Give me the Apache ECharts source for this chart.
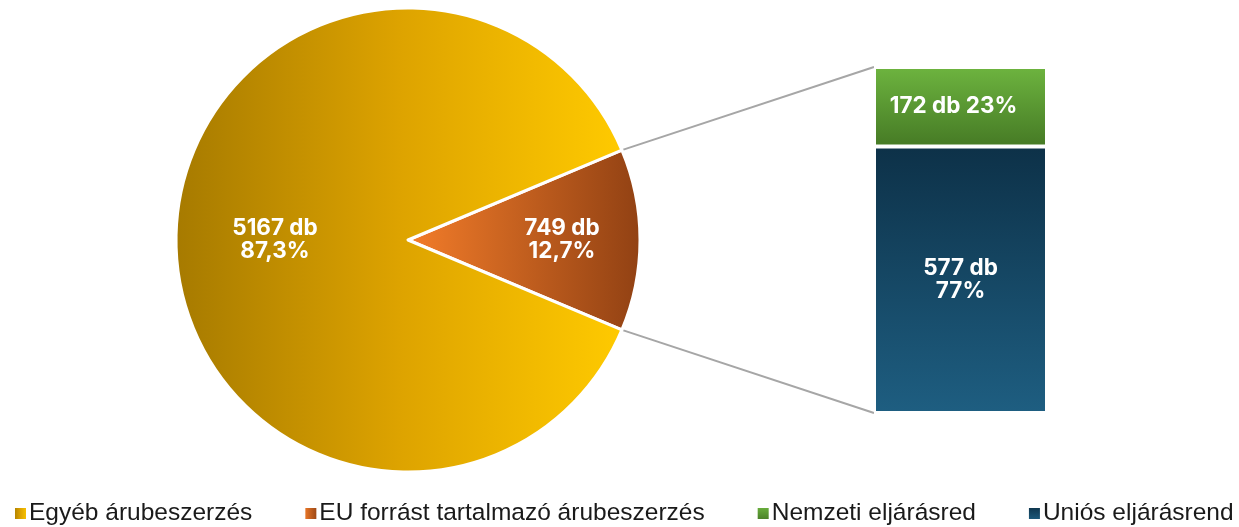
<!DOCTYPE html>
<html>
<head>
<meta charset="utf-8">
<script src="https://cdn.jsdelivr.net/npm/echarts@6/dist/echarts.min.js"></script>
<style>
html,body{margin:0;padding:0;background:#fff;}
#chart{width:1239px;height:527px;}
</style>
</head>
<body>
<div id="chart"></div>
<script>
const pieCategories = ['Egyéb árubeszerzés', 'EU forrást tartalmazó árubeszerzés'];
const pieValues = [5167, 749];
const piePercents = ['87,3%', '12,7%'];
const barNames = ['Nemzeti eljárásred', 'Uniós eljárásrend'];
const barValues = [172, 577];
const barPercents = ['23%', '77%'];

const chart = echarts.init(document.getElementById('chart'), null, {renderer: 'canvas'});

const pieCenter = [408, 240];
const pieRadius = 232;
const total = pieValues[0] + pieValues[1];
const euAngle = 360 * pieValues[1] / total;
const startAngle = euAngle / 2;

const gold = {type: 'linear', x: 0, y: 0, x2: 1, y2: 0, colorStops: [
  {offset: 0, color: '#a67a00'}, {offset: 0.5, color: '#dda300'}, {offset: 1, color: '#ffca00'}]};
const orange = {type: 'linear', x: 0, y: 0, x2: 1, y2: 0, colorStops: [
  {offset: 0, color: '#f47d2a'}, {offset: 1, color: '#914113'}]};
const green = {type: 'linear', x: 0, y: 0, x2: 0, y2: 1, colorStops: [
  {offset: 0, color: '#6db43f'}, {offset: 1, color: '#467a25'}]};
const blue = {type: 'linear', x: 0, y: 0, x2: 0, y2: 1, colorStops: [
  {offset: 0, color: '#0d3148'}, {offset: 1, color: '#1e5e81'}]};

const labelStyle = {color: '#fff', fontFamily: 'Inter', fontWeight: 'bold', fontSize: 22.5, lineHeight: 23};

const option = {
  animation: false,
  legend: {
    data: [pieCategories[0], pieCategories[1], barNames[0], barNames[1]],
    left: 13, top: 501, width: 1226,
    padding: 0,
    itemWidth: 13, itemHeight: 13, itemGap: 51,
    icon: 'rect',
    selectedMode: false,
    textStyle: {fontFamily: 'Liberation Sans', fontSize: 24.5, color: '#1a1a1a', padding: [0, 0, 0, -3]}
  },
  grid: {left: 874, width: 173, top: 67, bottom: 114},
  xAxis: {type: 'category', data: ['EU'], show: false},
  yAxis: {type: 'value', min: 0, max: pieValues[1], show: false},
  series: [
    {
      type: 'pie',
      center: pieCenter,
      radius: [0, pieRadius],
      startAngle: startAngle,
      clockwise: true,
      avoidLabelOverlap: false,
      itemStyle: {borderColor: '#fff', borderWidth: 3},
      label: Object.assign({position: 'inside'}, labelStyle),
      labelLine: {show: false},
      emphasis: {disabled: true},
      data: [
        {name: pieCategories[1], value: pieValues[1], itemStyle: {color: orange},
         label: {formatter: pieValues[1] + ' db\n' + piePercents[1], offset: [35, 0]}},
        {name: pieCategories[0], value: pieValues[0], itemStyle: {color: gold},
         label: {formatter: pieValues[0] + ' db\n' + piePercents[0], offset: [-14, 0]}}
      ]
    },
    {
      type: 'bar', name: barNames[1], stack: 'eu', barWidth: '100%',
      data: [barValues[1]],
      itemStyle: {color: blue, borderColor: '#fff', borderWidth: 2},
      label: Object.assign({show: true, position: 'inside', formatter: barValues[1] + ' db\n' + barPercents[1]}, labelStyle),
      emphasis: {disabled: true}
    },
    {
      type: 'bar', name: barNames[0], stack: 'eu', barWidth: '100%',
      data: [barValues[0]],
      itemStyle: {color: green, borderColor: '#fff', borderWidth: 2},
      label: Object.assign({show: true, position: 'inside', offset: [-7, 0], formatter: barValues[0] + ' db ' + barPercents[0]}, labelStyle),
      emphasis: {disabled: true}
    }
  ]
};
chart.setOption(option);

// connector lines from the EU slice edges to the bar corners
const rect = chart.getModel().getComponent('grid').coordinateSystem.getRect();
const yTop = chart.convertToPixel({gridIndex: 0}, [0, barValues[0] + barValues[1]])[1];
const yBot = chart.convertToPixel({gridIndex: 0}, [0, 0])[1];
const a = startAngle * Math.PI / 180;
const px = pieCenter[0] + pieRadius * Math.cos(a);
const pyTop = pieCenter[1] - pieRadius * Math.sin(a);
const pyBot = pieCenter[1] + pieRadius * Math.sin(a);
chart.setOption({
  graphic: [
    {type: 'line', shape: {x1: px, y1: pyTop, x2: rect.x, y2: yTop}, style: {stroke: '#a6a6a6', lineWidth: 2}, z: 0},
    {type: 'line', shape: {x1: px, y1: pyBot, x2: rect.x, y2: yBot}, style: {stroke: '#a6a6a6', lineWidth: 2}, z: 0}
  ]
});
</script>
</body>
</html>
